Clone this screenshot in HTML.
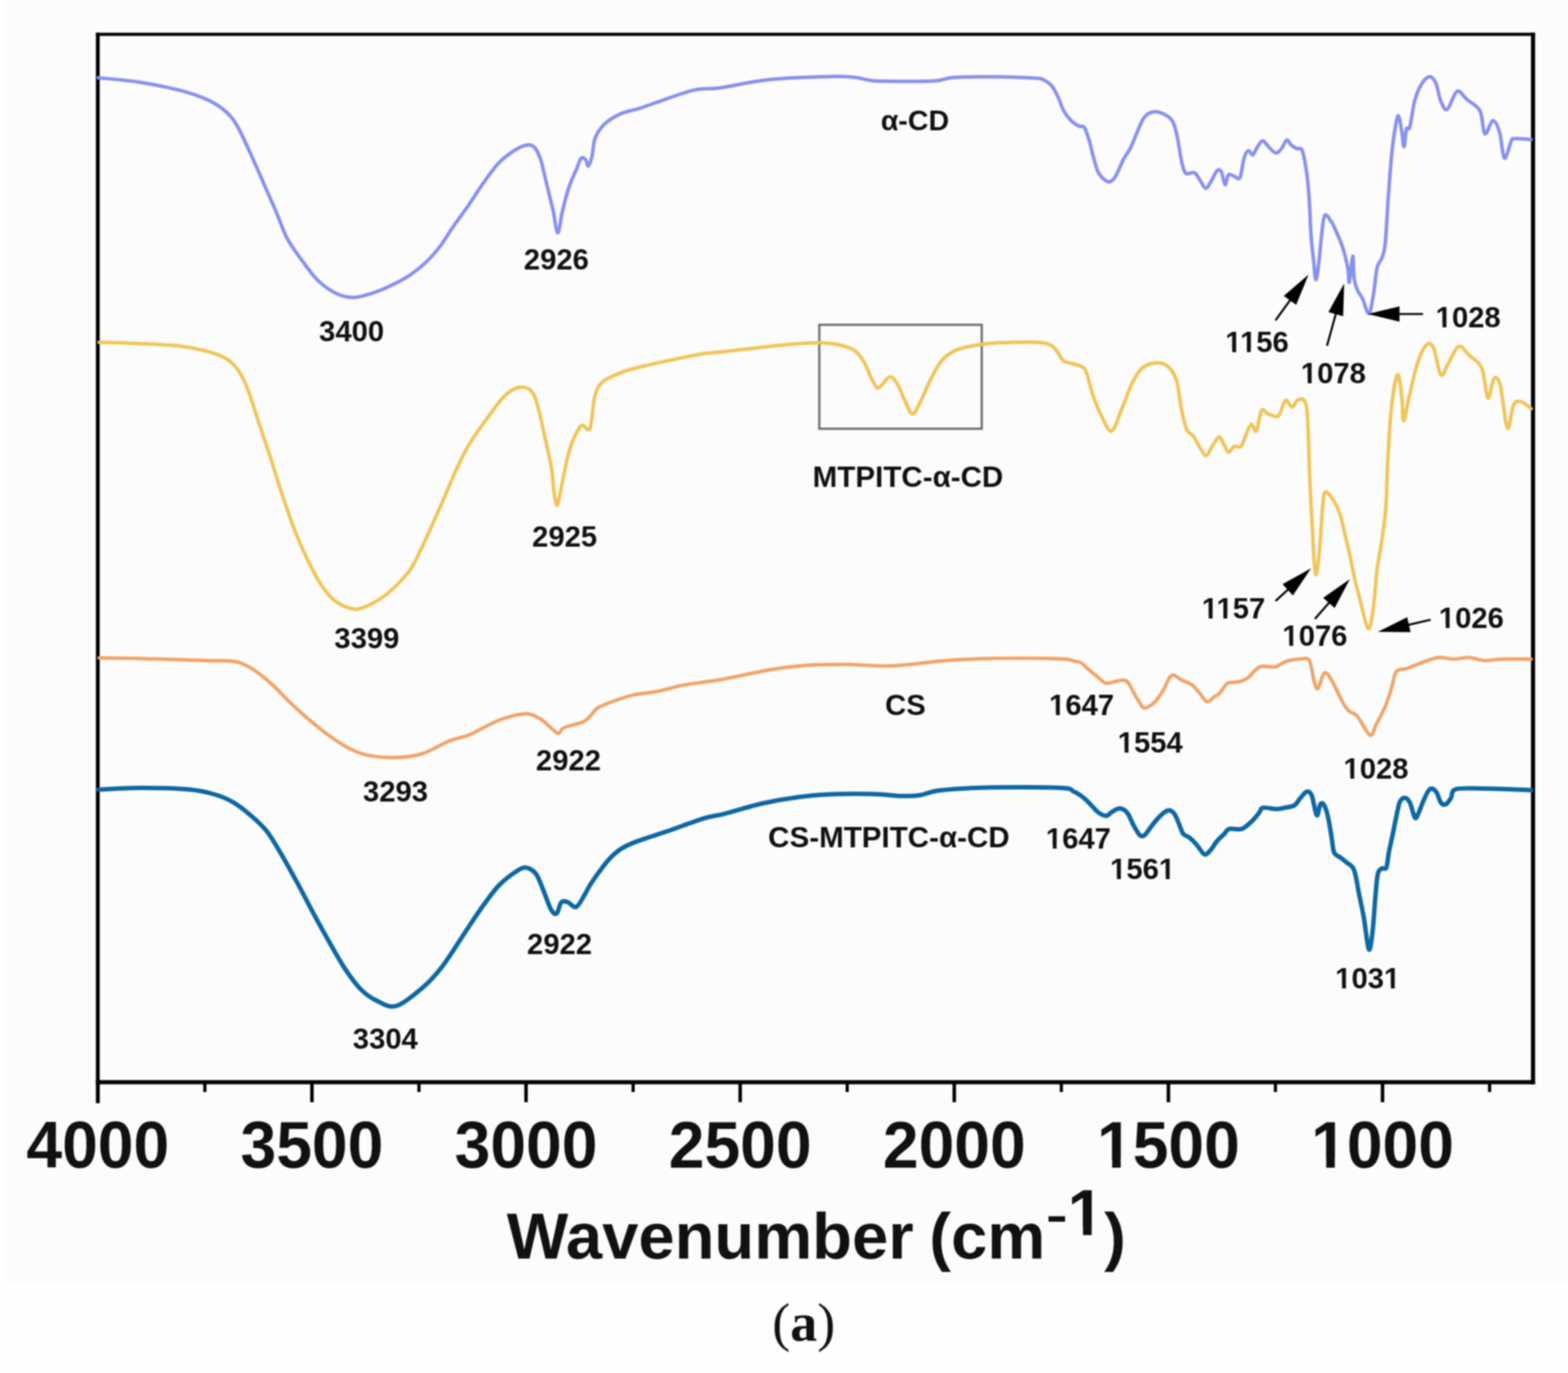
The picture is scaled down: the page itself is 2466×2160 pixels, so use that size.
<!DOCTYPE html><html><head><meta charset="utf-8"><title>FTIR spectra</title><style>html,body{margin:0;padding:0;background:#fefefe;}svg{display:block;filter:blur(1.3px);}text{font-family:"Liberation Sans",Arial,sans-serif;font-weight:bold;fill:#111;}.serif{font-family:"Liberation Serif","Times New Roman",serif;}</style></head><body>
<svg xmlns="http://www.w3.org/2000/svg" width="2466" height="2160" viewBox="0 0 2466 2160">
<rect x="0" y="0" width="2466" height="2160" fill="#fefefe"/>
<rect x="6" y="0" width="2460" height="2020" fill="#fcfcfc"/>
<rect x="1288.5" y="511" width="255.5" height="163.5" fill="none" stroke="#6e6e6e" stroke-width="3.5"/>
<path d="M150.8 54.0 H2414.2" stroke="#000" stroke-width="5" fill="none"/>
<path d="M153.8 51.5 V1735.5" stroke="#000" stroke-width="6" fill="none"/>
<path d="M2411.0 51.5 V1705.7" stroke="#000" stroke-width="6.5" fill="none"/>
<path d="M150.8 1702.5 H2414.2" stroke="#000" stroke-width="6.5" fill="none"/>
<line x1="153.8" y1="1702.5" x2="153.8" y2="1734.0" stroke="#000" stroke-width="5.5"/><line x1="322.2" y1="1702.5" x2="322.2" y2="1718.0" stroke="#000" stroke-width="5"/><line x1="490.6" y1="1702.5" x2="490.6" y2="1734.0" stroke="#000" stroke-width="5.5"/><line x1="658.9" y1="1702.5" x2="658.9" y2="1718.0" stroke="#000" stroke-width="5"/><line x1="827.3" y1="1702.5" x2="827.3" y2="1734.0" stroke="#000" stroke-width="5.5"/><line x1="995.7" y1="1702.5" x2="995.7" y2="1718.0" stroke="#000" stroke-width="5"/><line x1="1164.1" y1="1702.5" x2="1164.1" y2="1734.0" stroke="#000" stroke-width="5.5"/><line x1="1332.4" y1="1702.5" x2="1332.4" y2="1718.0" stroke="#000" stroke-width="5"/><line x1="1500.8" y1="1702.5" x2="1500.8" y2="1734.0" stroke="#000" stroke-width="5.5"/><line x1="1669.2" y1="1702.5" x2="1669.2" y2="1718.0" stroke="#000" stroke-width="5"/><line x1="1837.6" y1="1702.5" x2="1837.6" y2="1734.0" stroke="#000" stroke-width="5.5"/><line x1="2005.9" y1="1702.5" x2="2005.9" y2="1718.0" stroke="#000" stroke-width="5"/><line x1="2174.3" y1="1702.5" x2="2174.3" y2="1734.0" stroke="#000" stroke-width="5.5"/><line x1="2342.7" y1="1702.5" x2="2342.7" y2="1718.0" stroke="#000" stroke-width="5"/>
<text transform="translate(153.8 1836.6) scale(1 1.035)" x="0" y="0" font-size="101" text-anchor="middle" fill="#000">4000</text>
<text transform="translate(490.6 1836.6) scale(1 1.035)" x="0" y="0" font-size="101" text-anchor="middle" fill="#000">3500</text>
<text transform="translate(827.3 1836.6) scale(1 1.035)" x="0" y="0" font-size="101" text-anchor="middle" fill="#000">3000</text>
<text transform="translate(1164.1 1836.6) scale(1 1.035)" x="0" y="0" font-size="101" text-anchor="middle" fill="#000">2500</text>
<text transform="translate(1500.8 1836.6) scale(1 1.035)" x="0" y="0" font-size="101" text-anchor="middle" fill="#000">2000</text>
<text transform="translate(1837.6 1836.6) scale(1 1.035)" x="0" y="0" font-size="101" text-anchor="middle" fill="#000">1500</text>
<text transform="translate(2174.3 1836.6) scale(1 1.035)" x="0" y="0" font-size="101" text-anchor="middle" fill="#000">1000</text>
<text x="797" y="1979.5" font-size="102.5" fill="#000">Wavenumber</text>
<text x="1461.5" y="1979.5" font-size="102.5" fill="#000">(cm</text>
<text transform="translate(1645 1935.5) scale(1 0.7)" x="0" y="0" font-size="102.5" fill="#000">-</text>
<text x="1679" y="1942.5" font-size="102.5" fill="#000">1</text>
<text x="1736.5" y="1979.5" font-size="102.5" fill="#000">)</text>
<text class="serif" x="1264" y="2108.5" font-size="85" text-anchor="middle" fill="#000" style="font-weight:normal">(<tspan style="font-weight:bold">a</tspan>)</text>
<text x="1439.0" y="205.0" font-size="45" text-anchor="middle">&#945;-CD</text>
<text x="1428.0" y="765.5" font-size="46.5" text-anchor="middle">MTPITC-&#945;-CD</text>
<text x="1424.0" y="1124.5" font-size="46" text-anchor="middle">CS</text>
<text x="1398.0" y="1333.0" font-size="46.5" text-anchor="middle">CS-MTPITC-&#945;-CD</text>
<text x="553.0" y="537.0" font-size="46" text-anchor="middle">3400</text>
<text x="875.0" y="424.0" font-size="46" text-anchor="middle">2926</text>
<text x="577.0" y="1020.0" font-size="46" text-anchor="middle">3399</text>
<text x="888.0" y="860.0" font-size="46" text-anchor="middle">2925</text>
<text x="622.0" y="1261.0" font-size="46" text-anchor="middle">3293</text>
<text x="894.0" y="1212.0" font-size="46" text-anchor="middle">2922</text>
<text x="1701.0" y="1125.0" font-size="46" text-anchor="middle">1647</text>
<text x="1809.0" y="1184.0" font-size="46" text-anchor="middle">1554</text>
<text x="2164.0" y="1225.0" font-size="46" text-anchor="middle">1028</text>
<text x="606.0" y="1650.0" font-size="46" text-anchor="middle">3304</text>
<text x="880.0" y="1501.0" font-size="46" text-anchor="middle">2922</text>
<text x="1696.0" y="1335.0" font-size="46" text-anchor="middle">1647</text>
<text x="1797.0" y="1383.0" font-size="46" text-anchor="middle">1561</text>
<text x="2151.0" y="1555.0" font-size="46" text-anchor="middle">1031</text>
<text x="1977.0" y="554.0" font-size="46" text-anchor="middle">1156</text>
<text x="2097.0" y="603.0" font-size="46" text-anchor="middle">1078</text>
<text x="2309.0" y="515.0" font-size="46" text-anchor="middle">1028</text>
<text x="1940.0" y="973.0" font-size="46" text-anchor="middle">1157</text>
<text x="2068.0" y="1016.0" font-size="46" text-anchor="middle">1076</text>
<text x="2314.0" y="988.0" font-size="46" text-anchor="middle">1026</text>
<rect transform="translate(1837.6 1836.6) scale(1 1.035)" x="-109.30" y="-12.62" width="20.81" height="14.14" fill="#fcfcfc"/><rect transform="translate(1837.6 1836.6) scale(1 1.035)" x="-75.06" y="-12.62" width="19.29" height="14.14" fill="#fcfcfc"/><rect transform="translate(2174.3 1836.6) scale(1 1.035)" x="-109.30" y="-12.62" width="20.81" height="14.14" fill="#fcfcfc"/><rect transform="translate(2174.3 1836.6) scale(1 1.035)" x="-75.06" y="-12.62" width="19.29" height="14.14" fill="#fcfcfc"/><rect x="1682.08" y="1929.69" width="21.11" height="14.35" fill="#fcfcfc"/><rect x="1716.82" y="1929.69" width="19.58" height="14.35" fill="#fcfcfc"/><rect x="1651.21" y="1119.25" width="9.48" height="6.44" fill="#fcfcfc"/><rect x="1666.80" y="1119.25" width="8.79" height="6.44" fill="#fcfcfc"/><rect x="1759.21" y="1178.25" width="9.48" height="6.44" fill="#fcfcfc"/><rect x="1774.80" y="1178.25" width="8.79" height="6.44" fill="#fcfcfc"/><rect x="2114.21" y="1219.25" width="9.48" height="6.44" fill="#fcfcfc"/><rect x="2129.80" y="1219.25" width="8.79" height="6.44" fill="#fcfcfc"/><rect x="1646.21" y="1329.25" width="9.48" height="6.44" fill="#fcfcfc"/><rect x="1661.80" y="1329.25" width="8.79" height="6.44" fill="#fcfcfc"/><rect x="1747.21" y="1377.25" width="9.48" height="6.44" fill="#fcfcfc"/><rect x="1762.80" y="1377.25" width="8.79" height="6.44" fill="#fcfcfc"/><rect x="1823.94" y="1377.25" width="9.48" height="6.44" fill="#fcfcfc"/><rect x="1839.54" y="1377.25" width="8.79" height="6.44" fill="#fcfcfc"/><rect x="2101.21" y="1549.25" width="9.48" height="6.44" fill="#fcfcfc"/><rect x="2116.80" y="1549.25" width="8.79" height="6.44" fill="#fcfcfc"/><rect x="2177.94" y="1549.25" width="9.48" height="6.44" fill="#fcfcfc"/><rect x="2193.54" y="1549.25" width="8.79" height="6.44" fill="#fcfcfc"/><rect x="1928.48" y="548.25" width="9.48" height="6.44" fill="#fcfcfc"/><rect x="1944.08" y="548.25" width="8.79" height="6.44" fill="#fcfcfc"/><rect x="1951.51" y="548.25" width="9.48" height="6.44" fill="#fcfcfc"/><rect x="1967.11" y="548.25" width="8.79" height="6.44" fill="#fcfcfc"/><rect x="2047.21" y="597.25" width="9.48" height="6.44" fill="#fcfcfc"/><rect x="2062.80" y="597.25" width="8.79" height="6.44" fill="#fcfcfc"/><rect x="2259.21" y="509.25" width="9.48" height="6.44" fill="#fcfcfc"/><rect x="2274.80" y="509.25" width="8.79" height="6.44" fill="#fcfcfc"/><rect x="1891.48" y="967.25" width="9.48" height="6.44" fill="#fcfcfc"/><rect x="1907.08" y="967.25" width="8.79" height="6.44" fill="#fcfcfc"/><rect x="1914.51" y="967.25" width="9.48" height="6.44" fill="#fcfcfc"/><rect x="1930.11" y="967.25" width="8.79" height="6.44" fill="#fcfcfc"/><rect x="2018.21" y="1010.25" width="9.48" height="6.44" fill="#fcfcfc"/><rect x="2033.80" y="1010.25" width="8.79" height="6.44" fill="#fcfcfc"/><rect x="2264.21" y="982.25" width="9.48" height="6.44" fill="#fcfcfc"/><rect x="2279.80" y="982.25" width="8.79" height="6.44" fill="#fcfcfc"/>
<path d="M154.5 122.3C164.9 123.4 195.4 125.7 217.0 129.0C238.6 132.3 265.4 137.6 284.0 142.4C302.6 147.2 316.7 152.4 328.6 158.0C340.5 163.6 348.0 169.2 355.4 175.9C362.8 182.6 366.3 186.5 373.0 198.0C379.7 209.5 388.0 228.7 395.5 245.0C403.0 261.3 411.3 280.7 418.0 296.0C424.7 311.3 430.1 323.5 435.7 336.6C441.2 349.7 445.0 362.7 451.3 374.6C457.6 386.5 465.5 396.9 473.7 408.0C481.9 419.1 491.1 432.5 500.4 441.5C509.7 450.5 520.4 457.6 529.5 462.0C538.6 466.4 546.9 467.8 555.0 468.0C563.1 468.2 570.3 465.6 578.0 463.5C585.7 461.4 591.0 460.0 601.0 455.6C611.0 451.2 626.8 443.9 637.8 437.2C648.8 430.5 658.0 423.4 667.0 415.3C676.0 407.2 684.2 397.8 691.5 388.4C698.8 379.0 703.7 369.6 711.0 359.0C718.3 348.4 727.3 336.6 735.5 324.8C743.7 313.0 751.9 299.6 760.0 288.2C768.1 276.8 776.3 264.9 784.4 256.4C792.5 247.8 801.5 241.6 808.8 236.9C816.1 232.2 823.1 229.1 828.4 228.3C833.7 227.5 836.9 228.1 840.6 232.0C844.3 235.9 847.2 241.7 850.4 251.5C853.6 261.3 856.7 277.2 860.0 290.6C863.3 304.0 867.1 319.4 870.0 332.0C872.9 344.6 874.8 366.4 877.2 366.4C879.6 366.4 881.7 343.8 884.6 332.0C887.5 320.2 890.7 306.5 894.4 295.5C898.1 284.5 903.3 273.9 906.6 266.2C909.9 258.4 911.6 251.4 914.0 249.0C916.4 246.6 919.4 249.4 921.2 251.5C923.0 253.6 923.4 262.1 925.0 261.3C926.6 260.5 929.2 253.9 931.0 246.6C932.8 239.3 932.7 225.9 936.0 217.3C939.3 208.8 944.1 201.6 950.6 195.3C957.1 189.0 966.0 183.5 975.0 179.4C984.0 175.3 995.1 173.8 1004.3 170.9C1013.5 168.0 1015.5 166.9 1030.0 162.0C1044.5 157.1 1074.5 145.6 1091.6 141.6C1108.7 137.6 1113.2 140.9 1132.6 138.2C1152.0 135.5 1179.4 128.5 1207.9 125.5C1236.4 122.5 1280.9 121.0 1303.7 120.4C1326.5 119.8 1333.3 120.6 1344.7 121.7C1356.1 122.8 1358.9 125.9 1372.0 126.9C1385.1 127.9 1406.9 127.9 1423.4 127.9C1440.0 128.0 1458.2 128.2 1471.3 127.2C1484.4 126.2 1484.3 122.7 1502.0 121.7C1519.7 120.7 1556.3 120.8 1577.4 121.0C1598.5 121.2 1618.3 122.4 1628.7 123.1C1639.1 123.8 1635.8 123.0 1640.0 125.0C1644.2 127.0 1649.9 130.3 1654.0 135.0C1658.1 139.7 1661.3 146.9 1664.4 153.4C1667.5 159.9 1669.2 167.8 1672.6 173.9C1676.0 180.1 1680.9 186.2 1685.0 190.3C1689.1 194.4 1693.8 196.8 1697.2 198.5C1700.6 200.2 1702.7 196.5 1705.4 200.6C1708.1 204.7 1711.2 215.3 1713.6 223.2C1716.0 231.1 1717.4 239.6 1719.8 247.8C1722.2 256.0 1724.2 266.2 1728.0 272.5C1731.8 278.8 1738.4 284.4 1742.4 285.8C1746.4 287.2 1749.1 284.3 1752.0 281.0C1754.9 277.7 1757.5 271.1 1760.0 266.0C1762.5 260.9 1764.0 256.0 1767.0 250.4C1770.0 244.8 1774.3 240.0 1778.0 232.6C1781.7 225.2 1785.6 214.0 1789.3 205.8C1793.0 197.6 1796.0 188.5 1800.4 183.5C1804.9 178.5 1810.4 176.1 1816.0 175.7C1821.6 175.3 1829.2 178.5 1834.0 181.3C1838.8 184.1 1842.0 186.5 1845.0 192.4C1848.0 198.3 1849.5 206.6 1851.8 217.0C1854.0 227.4 1856.3 245.6 1858.5 254.9C1860.7 264.2 1861.9 270.0 1865.2 272.8C1868.5 275.6 1874.9 269.8 1878.6 271.7C1882.3 273.6 1884.5 279.9 1887.5 284.0C1890.5 288.1 1893.4 296.2 1896.4 296.2C1899.4 296.2 1902.4 288.6 1905.4 284.0C1908.4 279.4 1911.7 270.6 1914.3 268.3C1916.9 266.1 1919.0 266.8 1921.0 270.5C1923.0 274.2 1924.8 289.9 1926.6 290.6C1928.4 291.4 1929.7 277.2 1932.1 275.0C1934.5 272.8 1938.0 276.4 1941.0 277.2C1944.0 277.9 1947.4 284.3 1950.0 279.5C1952.6 274.7 1954.5 255.3 1956.7 248.2C1958.9 241.1 1961.2 237.7 1963.4 237.0C1965.6 236.3 1967.8 244.5 1970.0 243.8C1972.2 243.1 1974.2 236.3 1976.8 232.6C1979.4 228.9 1982.7 221.8 1985.7 221.4C1988.7 221.0 1991.2 227.2 1994.6 230.4C1997.9 233.6 2002.4 239.7 2005.8 240.4C2009.2 241.1 2011.7 238.2 2014.7 234.8C2017.7 231.5 2021.1 221.4 2023.7 220.3C2026.3 219.2 2027.8 225.9 2030.4 228.1C2033.0 230.3 2036.4 232.2 2039.3 233.7C2042.2 235.2 2045.3 230.2 2048.0 237.0C2050.7 243.8 2053.5 261.0 2055.4 274.5C2057.3 288.0 2058.2 302.4 2059.3 318.2C2060.4 334.0 2060.7 354.5 2061.8 369.5C2062.9 384.5 2064.4 396.2 2065.7 408.0C2067.0 419.8 2068.0 440.0 2069.5 440.0C2071.0 440.0 2073.2 419.8 2074.7 408.0C2076.2 396.2 2077.0 381.1 2078.5 369.5C2080.0 357.9 2081.0 342.1 2083.6 338.7C2086.2 335.3 2090.9 344.7 2093.9 349.0C2096.9 353.3 2098.6 357.6 2101.6 364.4C2104.6 371.2 2108.9 380.6 2111.9 390.0C2114.9 399.4 2117.9 411.9 2119.6 420.9C2121.3 429.9 2120.8 447.0 2122.1 444.0C2123.4 441.0 2126.0 403.8 2127.3 402.9C2128.6 402.0 2128.5 429.8 2129.8 438.8C2131.1 447.8 2132.8 451.7 2135.0 456.8C2137.2 461.9 2139.7 463.6 2142.7 469.6C2145.7 475.6 2150.0 494.7 2153.0 493.0C2156.0 491.3 2158.5 471.4 2160.6 459.4C2162.7 447.4 2163.7 429.9 2165.8 420.9C2168.0 411.9 2171.4 411.9 2173.5 405.5C2175.6 399.1 2176.9 399.1 2178.6 382.4C2180.3 365.7 2182.0 328.9 2183.7 305.4C2185.4 281.9 2187.2 258.3 2188.9 241.2C2190.6 224.1 2192.3 212.5 2194.0 202.7C2195.7 192.8 2197.5 181.7 2199.2 182.1C2200.9 182.5 2202.8 197.1 2204.3 205.2C2205.8 213.3 2206.8 231.3 2208.1 230.9C2209.4 230.5 2210.4 207.8 2211.9 202.7C2213.4 197.6 2214.9 207.4 2217.1 200.1C2219.2 192.8 2221.8 170.1 2224.8 159.0C2227.8 147.9 2231.2 139.8 2235.1 133.4C2238.9 127.0 2244.1 120.9 2247.9 120.5C2251.8 120.1 2255.2 124.4 2258.2 130.8C2261.2 137.2 2262.9 152.2 2265.9 159.0C2268.9 165.8 2271.9 174.5 2276.2 171.9C2280.5 169.3 2286.5 146.2 2291.6 143.6C2296.7 141.0 2301.0 151.4 2307.0 156.5C2313.0 161.6 2322.8 165.4 2327.5 174.4C2332.2 183.4 2331.8 207.8 2335.2 210.4C2338.6 213.0 2344.2 190.2 2348.0 189.8C2351.8 189.4 2355.3 198.0 2358.3 207.8C2361.3 217.7 2363.0 246.3 2366.0 248.9C2369.0 251.5 2373.7 228.3 2376.3 223.2C2378.9 218.0 2376.1 218.6 2381.4 218.0C2386.7 217.4 2403.6 219.2 2408.0 219.4" fill="none" stroke="#8890ee" stroke-width="5.5" stroke-linejoin="round" stroke-linecap="round"/>
<path d="M155.9 538.5C164.8 538.8 188.0 539.0 209.2 540.0C230.4 541.0 263.3 542.2 283.0 544.4C302.7 546.6 315.2 549.8 327.5 553.2C339.8 556.6 349.1 560.1 357.0 565.0C364.9 569.9 369.4 574.9 374.8 582.8C380.2 590.7 384.2 598.6 389.6 612.4C395.0 626.2 401.4 647.9 407.3 665.6C413.2 683.4 419.1 700.7 425.0 718.9C430.9 737.1 436.4 755.8 442.8 775.0C449.2 794.2 456.6 816.5 463.5 834.2C470.4 852.0 477.3 867.2 484.2 881.5C491.1 895.8 497.6 909.1 505.0 920.0C512.4 930.9 519.7 940.2 528.6 946.6C537.5 953.0 549.2 957.7 558.2 958.4C567.2 959.1 574.6 954.5 582.3 951.0C590.0 947.5 597.1 943.0 604.6 937.4C612.1 931.8 620.1 924.4 627.0 917.3C633.9 910.2 639.7 904.7 646.0 895.0C652.3 885.3 658.9 870.8 664.6 859.0C670.4 847.2 675.4 835.3 680.5 824.0C685.6 812.7 690.7 801.3 695.2 791.0C699.7 780.7 703.4 771.5 707.5 762.0C711.6 752.5 715.5 743.2 719.8 734.0C724.1 724.8 728.8 715.2 733.3 707.0C737.8 698.8 742.5 691.8 747.0 685.0C751.5 678.2 755.8 672.3 760.0 666.5C764.2 660.7 768.0 655.5 772.1 650.0C776.2 644.5 780.3 638.5 784.4 633.5C788.5 628.5 792.5 623.6 796.6 620.0C800.7 616.4 804.8 613.6 808.9 611.8C813.0 609.9 817.1 608.7 821.2 608.9C825.3 609.1 830.0 610.1 833.5 613.1C837.0 616.1 839.4 619.9 842.0 626.7C844.6 633.5 847.1 644.5 849.4 653.7C851.7 662.9 853.5 672.7 855.6 681.9C857.7 691.1 859.7 699.3 861.7 708.9C863.7 718.5 866.2 728.8 867.8 739.6C869.4 750.4 869.9 764.6 871.3 773.8C872.6 783.0 874.5 793.7 875.9 795.0C877.3 796.3 878.4 787.8 879.8 781.6C881.2 775.4 882.0 769.8 884.5 758.0C887.0 746.2 891.1 723.8 894.7 711.0C898.4 698.2 902.8 688.3 906.4 681.3C910.0 674.3 913.0 669.8 916.1 669.0C919.2 668.2 922.5 676.8 924.7 676.4C927.0 676.0 927.8 675.6 929.6 666.6C931.4 657.6 932.7 633.6 935.7 622.6C938.8 611.6 941.0 606.7 947.9 600.6C954.8 594.5 967.4 589.9 977.2 586.0C987.0 582.1 993.6 580.7 1006.6 577.4C1019.6 574.1 1039.1 569.8 1055.4 566.4C1071.7 563.0 1090.2 558.9 1104.3 556.7C1118.4 554.5 1123.5 554.8 1140.0 553.0C1156.5 551.2 1185.4 547.7 1203.3 545.7C1221.2 543.8 1233.1 542.4 1247.3 541.3C1261.5 540.2 1276.2 539.0 1288.4 539.3C1300.6 539.5 1311.3 540.8 1320.6 542.8C1329.9 544.8 1337.7 547.2 1344.0 551.6C1350.3 556.0 1354.3 561.9 1358.7 569.2C1363.1 576.5 1367.1 588.8 1370.5 595.6C1373.9 602.4 1376.4 608.7 1379.3 610.2C1382.2 611.7 1384.6 607.3 1388.0 604.4C1391.4 601.5 1395.9 592.6 1399.8 592.6C1403.7 592.6 1407.6 598.0 1411.5 604.4C1415.4 610.8 1419.4 623.0 1423.3 630.8C1427.2 638.6 1431.1 650.8 1435.0 651.3C1438.9 651.8 1441.8 643.0 1446.7 633.7C1451.6 624.4 1458.4 606.9 1464.3 595.6C1470.2 584.4 1475.2 573.8 1482.0 566.2C1488.8 558.6 1495.7 554.1 1505.4 550.1C1515.2 546.1 1529.8 544.0 1540.5 542.2C1551.2 540.4 1555.2 539.9 1569.9 539.3C1584.6 538.7 1614.8 537.8 1628.5 538.4C1642.2 539.0 1646.1 540.1 1652.0 542.8C1657.9 545.5 1660.3 550.4 1663.7 554.5C1667.1 558.6 1668.6 564.8 1672.5 567.7C1676.4 570.6 1682.6 570.7 1687.2 572.1C1691.8 573.5 1696.5 574.3 1700.0 576.3C1703.5 578.3 1704.9 576.7 1708.0 584.3C1711.1 591.9 1714.8 610.2 1718.8 621.8C1722.8 633.4 1727.2 644.6 1732.1 654.0C1737.0 663.4 1742.8 679.8 1748.2 678.0C1753.6 676.2 1758.9 655.7 1764.3 643.2C1769.7 630.7 1775.1 613.7 1780.4 603.0C1785.8 592.3 1790.2 584.2 1796.4 578.9C1802.7 573.5 1811.2 571.3 1817.9 570.9C1824.6 570.5 1831.2 571.8 1836.6 576.3C1841.9 580.8 1846.4 586.6 1850.0 597.7C1853.6 608.9 1855.3 630.2 1858.0 643.2C1860.7 656.2 1863.0 668.2 1866.1 675.4C1869.2 682.5 1873.2 681.2 1876.8 686.1C1880.4 691.0 1884.2 699.7 1887.5 704.8C1890.8 709.9 1893.8 717.3 1896.9 716.9C1900.0 716.5 1903.0 707.1 1906.3 702.2C1909.6 697.3 1913.9 687.9 1917.0 687.4C1920.1 686.9 1922.5 695.5 1925.0 699.5C1927.5 703.5 1929.0 711.0 1931.7 711.5C1934.4 712.0 1937.8 703.8 1941.1 702.2C1944.4 700.7 1948.7 705.3 1951.8 702.2C1954.9 699.1 1957.1 689.2 1959.8 683.4C1962.5 677.6 1965.2 668.2 1967.9 667.3C1970.6 666.4 1973.2 681.6 1975.9 678.0C1978.6 674.4 1980.9 650.4 1984.0 645.9C1987.1 641.4 1990.2 649.9 1994.7 651.3C1999.2 652.6 2006.2 657.6 2010.7 654.0C2015.2 650.4 2017.9 632.0 2021.5 629.8C2025.1 627.5 2029.1 640.5 2032.2 640.5C2035.3 640.5 2037.1 631.5 2040.2 629.8C2043.3 628.0 2048.2 625.8 2050.9 630.0C2053.6 634.2 2054.9 636.1 2056.3 655.0C2057.7 673.9 2058.3 714.6 2059.5 743.2C2060.7 771.9 2062.1 800.3 2063.7 826.9C2065.2 853.5 2066.9 896.0 2068.8 903.0C2070.7 910.0 2073.0 887.1 2074.9 868.8C2076.8 850.5 2078.9 809.2 2080.5 793.4C2082.1 777.6 2082.0 775.3 2084.6 773.9C2087.2 772.5 2092.1 779.5 2095.8 785.1C2099.5 790.7 2103.8 798.1 2107.0 807.4C2110.2 816.7 2112.5 829.3 2115.3 840.9C2118.1 852.5 2121.4 866.4 2123.7 877.1C2126.0 887.8 2127.0 894.8 2129.3 905.0C2131.6 915.2 2134.0 924.5 2137.7 938.5C2141.4 952.5 2147.9 986.0 2151.6 988.8C2155.3 991.6 2157.7 970.6 2160.0 955.3C2162.3 939.9 2163.5 913.5 2165.6 896.7C2167.7 880.0 2170.2 871.1 2172.5 854.8C2174.8 838.5 2177.9 819.9 2179.5 799.0C2181.1 778.1 2180.9 754.9 2182.3 729.3C2183.7 703.7 2185.4 668.9 2187.9 645.6C2190.4 622.4 2194.8 593.5 2197.6 589.8C2200.4 586.1 2203.0 611.1 2204.6 623.2C2206.2 635.3 2205.5 661.8 2207.4 662.3C2209.3 662.8 2212.1 641.4 2215.8 626.0C2219.5 610.6 2225.0 584.2 2229.7 570.2C2234.3 556.2 2239.5 546.0 2243.7 542.3C2247.9 538.6 2251.1 540.0 2254.8 547.9C2258.5 555.8 2262.3 585.6 2266.0 589.8C2269.7 594.0 2272.5 580.5 2277.2 573.0C2281.8 565.5 2288.3 547.4 2293.9 545.1C2299.5 542.8 2304.6 553.5 2310.6 559.1C2316.6 564.7 2325.3 567.5 2330.2 578.6C2335.1 589.8 2336.8 623.2 2340.0 626.0C2343.2 628.8 2346.4 598.5 2349.7 595.3C2352.9 592.0 2356.0 593.5 2359.5 606.5C2363.0 619.5 2367.1 668.4 2370.6 673.5C2374.1 678.6 2376.9 644.2 2380.4 637.2C2383.9 630.2 2387.0 630.7 2391.6 631.6C2396.2 632.5 2405.3 640.9 2408.0 642.8" fill="none" stroke="#f0c457" stroke-width="5.5" stroke-linejoin="round" stroke-linecap="round"/>
<path d="M155.9 1034.9C169.6 1035.2 209.7 1035.7 238.0 1036.4C266.4 1037.1 304.0 1038.6 326.0 1039.3C348.0 1040.0 357.8 1038.3 370.0 1040.8C382.2 1043.2 389.5 1047.9 399.3 1054.0C409.1 1060.1 418.8 1068.6 428.6 1077.4C438.4 1086.2 448.1 1097.5 457.9 1106.8C467.7 1116.1 477.4 1124.9 487.2 1133.2C497.0 1141.5 506.8 1149.5 516.6 1156.6C526.4 1163.7 536.1 1170.6 545.9 1175.7C555.7 1180.8 563.0 1184.7 575.2 1187.4C587.4 1190.1 604.5 1192.0 619.2 1191.8C633.9 1191.6 648.5 1190.4 663.2 1186.0C677.9 1181.6 694.4 1170.5 707.2 1165.4C720.0 1160.3 727.2 1160.6 740.0 1155.2C752.8 1149.8 769.8 1138.6 784.0 1133.2C798.2 1127.8 814.2 1123.4 825.0 1122.9C835.8 1122.4 842.1 1127.0 848.5 1130.2C854.9 1133.4 858.3 1138.1 863.2 1142.0C868.1 1145.9 873.9 1153.2 877.8 1153.7C881.7 1154.2 880.2 1147.8 886.6 1144.9C893.0 1142.0 909.1 1139.0 916.0 1136.1C922.9 1133.2 923.8 1131.0 927.7 1127.3C931.6 1123.6 933.5 1118.0 939.4 1114.1C945.3 1110.2 953.6 1107.2 962.9 1103.8C972.2 1100.4 983.4 1096.3 995.1 1093.6C1006.8 1090.9 1019.6 1090.4 1033.3 1087.7C1047.0 1085.0 1060.1 1080.6 1077.2 1077.4C1094.3 1074.2 1113.9 1072.6 1135.9 1068.7C1157.9 1064.8 1187.2 1057.7 1209.2 1054.0C1231.2 1050.3 1247.8 1048.2 1267.9 1046.7C1288.0 1045.2 1307.4 1045.1 1330.0 1045.2C1352.6 1045.3 1376.9 1048.5 1403.3 1047.5C1429.7 1046.5 1461.5 1041.2 1488.4 1039.3C1515.3 1037.3 1534.8 1036.3 1564.6 1035.8C1594.4 1035.3 1646.3 1035.7 1667.2 1036.4C1688.1 1037.1 1684.4 1038.9 1690.0 1040.0C1695.6 1041.1 1696.9 1040.8 1700.6 1043.0C1704.3 1045.2 1707.9 1049.9 1712.0 1053.4C1716.1 1056.9 1720.8 1060.5 1725.2 1064.0C1729.6 1067.5 1734.0 1073.0 1738.4 1074.5C1742.8 1076.0 1747.2 1073.5 1751.6 1072.8C1756.0 1072.1 1761.1 1070.1 1764.8 1070.1C1768.5 1070.1 1770.7 1069.9 1773.6 1073.0C1776.5 1076.1 1779.5 1083.5 1782.4 1088.6C1785.3 1093.7 1788.3 1099.4 1791.2 1103.6C1794.1 1107.8 1796.3 1113.4 1800.0 1114.0C1803.7 1114.6 1809.5 1109.8 1813.2 1107.0C1816.9 1104.2 1819.1 1101.4 1822.0 1097.4C1824.9 1093.5 1827.9 1088.6 1830.8 1083.3C1833.7 1078.0 1837.0 1069.2 1839.6 1065.7C1842.2 1062.2 1843.7 1061.6 1846.6 1062.2C1849.5 1062.8 1852.5 1066.8 1857.2 1069.3C1861.9 1071.8 1869.8 1074.0 1874.7 1077.5C1879.6 1081.0 1882.5 1085.6 1886.4 1090.0C1890.3 1094.4 1894.2 1103.0 1898.1 1104.0C1902.0 1105.0 1906.5 1098.3 1909.9 1096.0C1913.3 1093.7 1915.3 1093.5 1918.7 1090.0C1922.1 1086.5 1925.5 1077.9 1930.4 1075.0C1935.3 1072.1 1942.6 1073.9 1948.0 1072.5C1953.4 1071.1 1957.1 1070.3 1962.6 1066.4C1968.1 1062.5 1973.9 1052.0 1981.1 1049.1C1988.2 1046.2 1998.6 1050.5 2005.5 1049.1C2012.4 1047.7 2015.7 1042.6 2022.6 1040.5C2029.5 1038.4 2041.0 1036.6 2047.1 1036.4C2053.2 1036.2 2056.1 1033.5 2059.3 1039.3C2062.6 1045.1 2064.4 1063.8 2066.6 1071.1C2068.8 1078.4 2070.0 1085.3 2072.7 1083.3C2075.3 1081.3 2079.0 1061.3 2082.5 1058.9C2086.0 1056.5 2088.8 1061.4 2093.5 1068.7C2098.2 1076.0 2106.1 1094.8 2110.6 1102.9C2115.1 1111.0 2116.3 1113.4 2120.4 1117.5C2124.5 1121.6 2129.3 1120.8 2135.0 1127.3C2140.7 1133.8 2149.7 1154.6 2154.6 1156.6C2159.5 1158.6 2160.3 1147.2 2164.4 1139.5C2168.5 1131.8 2174.9 1120.0 2179.0 1110.2C2183.1 1100.4 2186.0 1089.9 2188.8 1080.9C2191.7 1071.9 2192.0 1061.3 2196.1 1056.4C2200.2 1051.5 2206.4 1053.9 2213.3 1051.5C2220.2 1049.1 2229.6 1044.6 2237.7 1041.8C2245.8 1039.0 2253.9 1035.2 2262.1 1034.4C2270.2 1033.6 2278.4 1036.9 2286.6 1036.9C2294.8 1036.9 2302.9 1034.0 2311.0 1034.4C2319.1 1034.8 2327.2 1038.9 2335.4 1039.3C2343.6 1039.7 2347.8 1037.3 2359.9 1036.9C2372.0 1036.5 2400.0 1036.9 2408.0 1036.9" fill="none" stroke="#f0a468" stroke-width="5.5" stroke-linejoin="round" stroke-linecap="round"/>
<path d="M154.9 1242.1C166.4 1241.7 200.0 1239.6 223.7 1239.6C247.4 1239.6 278.5 1240.4 297.3 1242.1C316.1 1243.8 325.1 1246.2 336.6 1249.5C348.1 1252.8 356.3 1256.0 366.1 1261.7C375.9 1267.4 386.5 1276.0 395.5 1283.8C404.5 1291.6 411.9 1297.8 420.1 1308.4C428.3 1319.1 436.4 1333.8 444.6 1347.7C452.8 1361.6 461.0 1376.8 469.2 1391.9C477.4 1407.0 485.6 1423.4 493.8 1438.5C502.0 1453.6 510.1 1468.4 518.3 1482.7C526.5 1497.0 534.7 1512.2 542.9 1524.5C551.1 1536.8 559.2 1548.2 567.4 1556.4C575.6 1564.7 582.6 1569.7 592.0 1574.0C601.4 1578.3 611.0 1586.3 623.5 1582.5C636.0 1578.7 655.1 1562.0 667.3 1551.4C679.5 1540.8 686.8 1531.8 696.6 1519.1C706.4 1506.4 716.2 1489.8 726.0 1475.1C735.8 1460.4 745.5 1444.8 755.3 1431.1C765.1 1417.4 774.8 1403.2 784.6 1393.0C794.4 1382.8 806.6 1374.2 813.9 1369.6C821.2 1365.0 823.7 1364.2 828.6 1365.2C833.5 1366.2 838.9 1369.3 843.3 1375.4C847.7 1381.5 851.1 1392.5 855.0 1401.8C858.9 1411.1 863.3 1425.2 866.7 1431.1C870.1 1437.0 872.8 1439.0 875.5 1437.0C878.2 1435.0 879.9 1422.3 882.8 1419.4C885.7 1416.5 889.2 1418.2 893.1 1419.4C897.0 1420.6 901.9 1428.7 906.3 1426.7C910.7 1424.8 915.4 1414.3 919.5 1407.7C923.6 1401.1 924.4 1397.0 931.2 1387.2C938.1 1377.4 950.8 1358.8 960.6 1349.0C970.4 1339.2 975.2 1335.3 989.9 1328.5C1004.5 1321.7 1029.0 1314.8 1048.5 1308.0C1068.0 1301.2 1092.0 1292.1 1107.2 1287.4C1122.5 1282.8 1124.8 1284.0 1140.0 1280.1C1155.2 1276.2 1179.2 1268.4 1198.7 1264.0C1218.2 1259.6 1237.8 1256.2 1257.3 1253.7C1276.8 1251.2 1296.5 1250.0 1316.0 1249.3C1335.5 1248.6 1357.5 1248.8 1374.6 1249.3C1391.7 1249.8 1406.4 1252.0 1418.6 1252.3C1430.8 1252.5 1438.1 1252.3 1447.9 1250.8C1457.7 1249.3 1460.1 1245.5 1477.2 1243.5C1494.3 1241.5 1518.8 1239.7 1550.6 1239.0C1582.4 1238.3 1644.9 1238.4 1667.9 1239.5C1691.0 1240.6 1682.8 1242.8 1688.9 1245.4C1695.0 1248.0 1699.6 1251.3 1704.5 1255.2C1709.4 1259.1 1714.3 1265.0 1718.2 1268.9C1722.1 1272.8 1724.4 1276.3 1728.0 1278.7C1731.6 1281.1 1736.1 1283.8 1739.7 1283.5C1743.3 1283.2 1745.9 1278.7 1749.5 1276.7C1753.1 1274.8 1757.3 1271.5 1761.2 1271.8C1765.1 1272.1 1769.3 1274.3 1772.9 1278.7C1776.5 1283.1 1779.4 1292.4 1782.7 1298.2C1786.0 1304.0 1789.6 1311.2 1792.5 1313.8C1795.4 1316.4 1797.0 1316.4 1800.3 1313.8C1803.5 1311.2 1807.8 1303.4 1812.0 1298.2C1816.2 1293.0 1821.5 1286.5 1825.7 1282.6C1830.0 1278.7 1833.9 1275.0 1837.5 1274.7C1841.1 1274.4 1844.3 1276.7 1847.2 1280.6C1850.1 1284.5 1852.7 1293.0 1855.0 1298.2C1857.3 1303.4 1858.3 1308.6 1860.9 1311.9C1863.5 1315.2 1867.1 1314.9 1870.7 1317.8C1874.3 1320.7 1878.5 1325.1 1882.4 1329.5C1886.3 1333.9 1890.6 1342.8 1894.2 1344.1C1897.8 1345.4 1900.7 1340.7 1903.9 1337.3C1907.2 1333.9 1910.1 1327.8 1913.7 1323.6C1917.3 1319.4 1922.1 1315.2 1925.4 1311.9C1928.7 1308.7 1928.7 1305.4 1933.3 1304.1C1937.9 1302.8 1946.9 1306.1 1952.8 1304.1C1958.7 1302.1 1963.8 1296.5 1968.4 1292.3C1973.0 1288.1 1977.3 1282.3 1980.2 1278.7C1983.1 1275.1 1981.5 1271.8 1986.0 1270.8C1990.5 1269.8 2001.8 1272.8 2007.5 1272.8C2013.2 1272.8 2015.3 1271.8 2020.0 1270.8C2024.7 1269.8 2031.4 1269.5 2035.6 1266.9C2039.8 1264.3 2042.1 1258.8 2045.4 1255.2C2048.7 1251.6 2052.3 1246.1 2055.2 1245.4C2058.1 1244.8 2060.4 1245.1 2063.0 1251.3C2065.6 1257.5 2068.5 1280.3 2070.8 1282.6C2073.1 1284.9 2074.7 1267.6 2076.7 1265.0C2078.7 1262.4 2080.6 1263.7 2082.6 1266.9C2084.6 1270.2 2086.4 1276.0 2088.4 1284.5C2090.4 1293.0 2092.7 1308.3 2094.3 1317.8C2095.9 1327.2 2095.9 1336.0 2098.2 1341.2C2100.5 1346.4 2104.7 1346.4 2108.0 1349.0C2111.3 1351.6 2114.2 1353.6 2117.8 1356.9C2121.4 1360.2 2126.2 1360.5 2129.5 1368.6C2132.8 1376.7 2134.7 1393.0 2137.3 1405.7C2139.9 1418.4 2142.5 1430.1 2145.1 1444.8C2147.7 1459.5 2150.6 1490.4 2152.9 1493.7C2155.2 1497.0 2157.2 1477.4 2158.8 1464.4C2160.4 1451.4 2161.4 1430.2 2162.7 1415.5C2164.0 1400.8 2165.0 1384.6 2166.6 1376.4C2168.2 1368.2 2170.2 1368.5 2172.5 1366.6C2174.8 1364.6 2178.4 1368.9 2180.3 1364.7C2182.2 1360.5 2182.6 1349.7 2184.2 1341.2C2185.8 1332.7 2188.1 1323.2 2190.1 1313.8C2192.1 1304.3 2194.1 1293.3 2196.0 1284.5C2197.9 1275.7 2199.5 1266.0 2201.8 1261.1C2204.1 1256.2 2207.0 1254.9 2209.6 1255.2C2212.2 1255.5 2214.9 1257.8 2217.5 1263.0C2220.1 1268.2 2223.0 1283.9 2225.3 1286.5C2227.6 1289.1 2228.8 1283.3 2231.1 1278.7C2233.4 1274.1 2236.1 1265.3 2239.0 1259.1C2241.9 1252.9 2245.4 1243.8 2248.7 1241.5C2251.9 1239.2 2255.6 1241.8 2258.5 1245.4C2261.4 1249.0 2263.7 1259.7 2266.3 1263.0C2268.9 1266.3 2271.6 1266.3 2274.2 1265.0C2276.8 1263.7 2279.4 1259.1 2282.0 1255.2C2284.6 1251.3 2281.3 1244.0 2289.8 1241.5C2298.3 1239.0 2319.1 1240.5 2332.8 1240.5C2346.5 1240.5 2359.4 1241.1 2371.9 1241.5C2384.4 1241.9 2402.0 1242.8 2408.0 1243.0" fill="none" stroke="#0d67a2" stroke-width="7" stroke-linejoin="round" stroke-linecap="round"/>
<line x1="2006.0" y1="504.0" x2="2034.6" y2="464.4" stroke="#000" stroke-width="3.2"/><polygon points="2058.0,432.0 2038.5,479.6 2019.0,465.5" fill="#000"/>
<line x1="2087.0" y1="544.0" x2="2103.4" y2="484.6" stroke="#000" stroke-width="3.2"/><polygon points="2114.0,446.0 2112.3,497.4 2089.2,491.0" fill="#000"/>
<line x1="2238.0" y1="494.0" x2="2191.0" y2="494.0" stroke="#000" stroke-width="3.2"/><polygon points="2151.0,494.0 2201.0,482.0 2201.0,506.0" fill="#000"/>
<line x1="2006.0" y1="945.5" x2="2032.6" y2="921.1" stroke="#000" stroke-width="3.2"/><polygon points="2062.0,894.0 2033.3,936.7 2017.1,919.0" fill="#000"/>
<line x1="2068.0" y1="973.6" x2="2096.6" y2="941.0" stroke="#000" stroke-width="3.2"/><polygon points="2123.0,911.0 2099.0,956.5 2081.0,940.6" fill="#000"/>
<line x1="2250.0" y1="975.0" x2="2206.0" y2="985.1" stroke="#000" stroke-width="3.2"/><polygon points="2167.0,994.0 2213.1,971.1 2218.4,994.5" fill="#000"/>
</svg></body></html>
